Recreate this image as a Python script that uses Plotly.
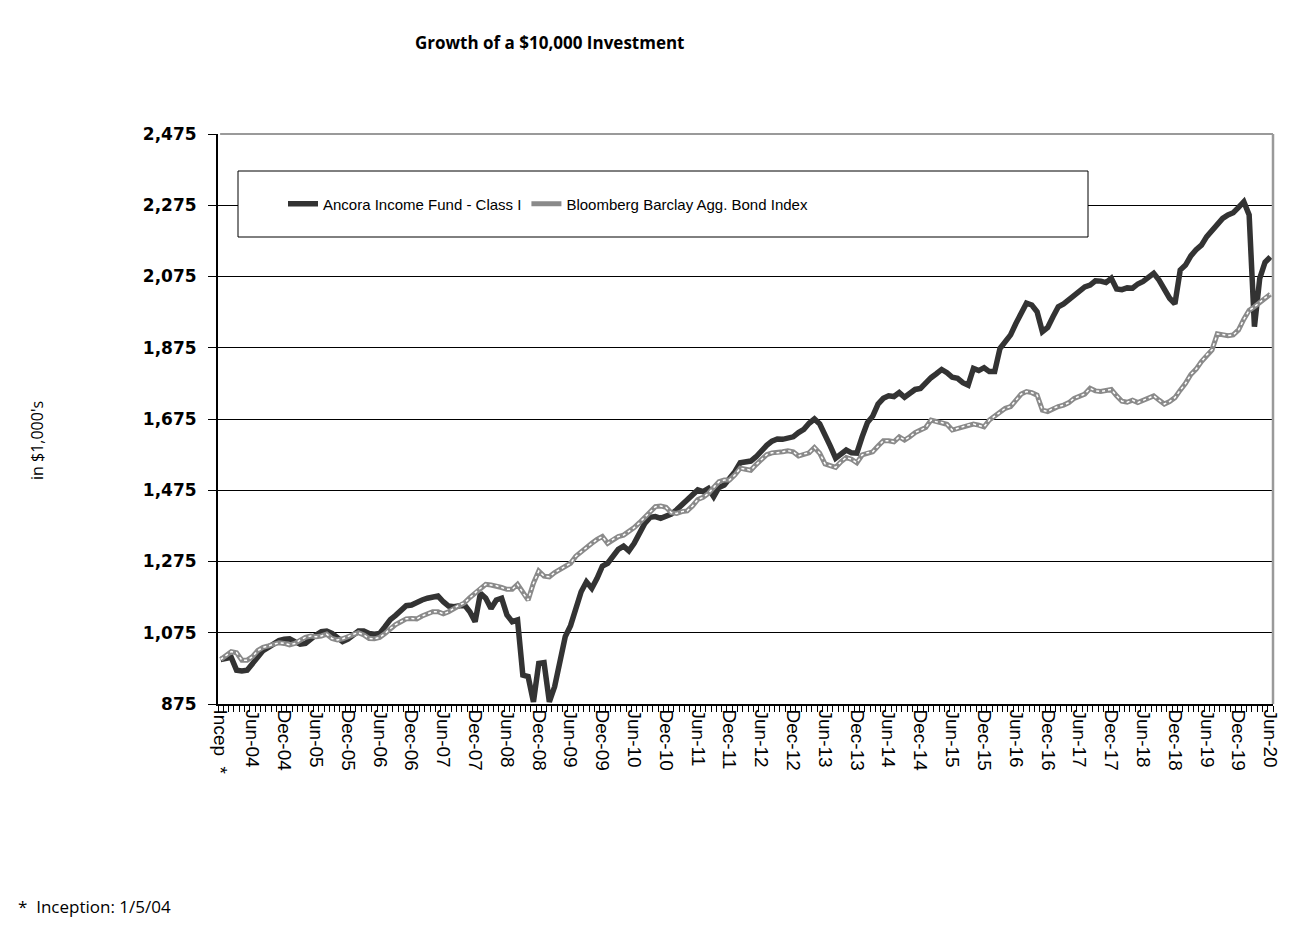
import plotly.graph_objects as go

# ---- categories (month ends; first point is inception) ----
years = list(range(2004, 2021))
mon = ["Jan", "Feb", "Mar", "Apr", "May", "Jun", "Jul", "Aug", "Sep", "Oct", "Nov", "Dec"]
months = ["Incep  *"]
for y in years:
    for m in mon:
        if y == 2020 and mon.index(m) > 5:
            break
        months.append(f"{m}-{str(y)[2:]}")

# ---- series values (growth of $10,000, shown in $1,000's x 100) ----
fund = [1000, 1002, 1006, 970, 968, 970, 989, 1012, 1025, 1034, 1043, 1053, 1057, 1058, 1050, 1043,
        1045, 1058, 1069, 1078, 1080, 1073, 1062, 1050, 1057, 1071, 1080, 1080, 1073, 1071, 1073, 1092,
        1112, 1124, 1139, 1151, 1153, 1162, 1167, 1172, 1176, 1178, 1162, 1150, 1148, 1150, 1153, 1134,
        1106, 1186, 1172, 1143, 1167, 1172, 1125, 1106, 1111, 956, 952, 881, 989, 991, 881, 924,
        994, 1064, 1095, 1143, 1190, 1218, 1200, 1228, 1262, 1270, 1293, 1309, 1318, 1305, 1326, 1354,
        1382, 1399, 1401, 1396, 1401, 1408, 1420, 1434, 1448, 1466, 1476, 1471, 1480, 1457, 1483, 1490,
        1506, 1527, 1552, 1555, 1557, 1569, 1588, 1601, 1613, 1619, 1618, 1621, 1625, 1637, 1646, 1663,
        1675, 1661, 1625, 1599, 1565, 1579, 1588, 1580, 1579, 1625, 1665, 1683, 1717, 1733, 1740, 1738,
        1749, 1736, 1749, 1758, 1761, 1777, 1791, 1802, 1814, 1805, 1792, 1789, 1777, 1770, 1817, 1811,
        1819, 1808, 1808, 1873, 1892, 1911, 1943, 1976, 2000, 1995, 1976, 1920, 1932, 1962, 1990, 1998,
        2011, 2020, 2035, 2046, 2051, 2063, 2062, 2058, 2070, 2040, 2038, 2043, 2042, 2054, 2061, 2073,
        2084, 2065, 2037, 2014, 1998, 2093, 2107, 2133, 2150, 2163, 2187, 2206, 2220, 2238, 2248, 2254,
        2269, 2285, 2248, 1934, 2070, 2115, 2130]

bond = [1000, 1010, 1022, 1019, 998, 998, 1008, 1025, 1034, 1038, 1043, 1047, 1045, 1041, 1045, 1055,
        1062, 1066, 1064, 1066, 1071, 1059, 1055, 1058, 1064, 1071, 1075, 1069, 1059, 1058, 1062, 1073,
        1087, 1098, 1106, 1114, 1115, 1114, 1122, 1129, 1134, 1134, 1128, 1134, 1143, 1153, 1159, 1174,
        1187, 1200, 1211, 1209, 1207, 1202, 1197, 1197, 1211, 1187, 1167, 1214, 1248, 1234, 1232, 1244,
        1253, 1260, 1270, 1290, 1303, 1314, 1326, 1337, 1345, 1326, 1337, 1345, 1349, 1359, 1370, 1384,
        1399, 1415, 1429, 1431, 1427, 1412, 1410, 1415, 1417, 1431, 1449, 1455, 1466, 1483, 1499, 1504,
        1504, 1518, 1537, 1534, 1531, 1547, 1560, 1575, 1580, 1580, 1583, 1586, 1583, 1571, 1577, 1580,
        1595, 1579, 1549, 1543, 1539, 1555, 1567, 1562, 1552, 1574, 1580, 1583, 1599, 1614, 1614, 1611,
        1625, 1616, 1625, 1637, 1644, 1651, 1672, 1667, 1665, 1660, 1644, 1649, 1652, 1658, 1661, 1658,
        1653, 1672, 1683, 1696, 1705, 1710, 1726, 1745, 1752, 1749, 1742, 1700, 1696, 1705, 1710, 1714,
        1721, 1733, 1739, 1745, 1761, 1754, 1752, 1754, 1758, 1740, 1725, 1722, 1728, 1721, 1728, 1733,
        1740, 1728, 1717, 1724, 1735, 1756, 1775, 1800, 1815, 1836, 1855, 1869, 1914, 1912, 1909, 1911,
        1925, 1955, 1980, 1990, 2003, 2015, 2025]

y_ticks = [875, 1075, 1275, 1475, 1675, 1875, 2075, 2275, 2475]

x = list(range(len(months)))
label_idx = list(range(0, len(months), 6))

# plot-area pixel geometry
L, R, T, B = 218, 1273, 134, 704
PW, PH = R - L, B - T


def px(xp):
    return (xp - L) / PW


def py(yp):
    return (B - yp) / PH


fig = go.Figure()
fig.add_trace(go.Scatter(x=x, y=fund, mode="lines", name="Ancora Income Fund - Class I",
                         line=dict(color="#333333", width=5.5)))
fig.add_trace(go.Scatter(x=x, y=bond, mode="lines", name="Bloomberg Barclay Agg. Bond Index",
                         line=dict(color="#8a8a8a", width=5), legendgroup="b"))
fig.add_trace(go.Scatter(x=x, y=bond, mode="lines", showlegend=False, hoverinfo="skip",
                         line=dict(color="white", width=1.5, dash="dot"), legendgroup="b"))

fig.update_layout(
    width=1310, height=937,
    margin=dict(l=L, r=1310 - R, t=T, b=937 - B),
    paper_bgcolor="white", plot_bgcolor="white",
    showlegend=True,
    legend=dict(orientation="h", x=px(283), y=py(204), xanchor="left", yanchor="middle",
                bgcolor="rgba(0,0,0,0)", borderwidth=0, itemwidth=30,
                font=dict(family="Liberation Sans, Arial", size=15, color="black")),
    xaxis=dict(range=[-0.5, len(months) - 0.5], tickmode="array", tickvals=label_idx,
               ticktext=[months[i] for i in label_idx], tickangle=90, ticks="",
               showgrid=False, zeroline=False, showline=True, linecolor="black", linewidth=1.5,
               tickfont=dict(family="Liberation Sans, Arial", size=19, color="black"),
               minor=dict(tickmode="array", tickvals=[i - 0.5 for i in range(len(months) + 1)],
                          ticks="outside", ticklen=6, tickcolor="black", tickwidth=1, showgrid=False)),
    yaxis=dict(range=[875, 2475], tickmode="array", tickvals=y_ticks,
               ticktext=[f"{v:,}" for v in y_ticks], ticks="outside", ticklen=8, tickcolor="black",
               ticklabelstandoff=8,
               showgrid=True, gridcolor="black", gridwidth=1, zeroline=False,
               showline=True, linecolor="black", linewidth=2,
               tickfont=dict(family="DejaVu Sans", size=17, color="black", weight="bold")),
    shapes=[
        # gray top and right border of the plot area
        dict(type="line", xref="paper", yref="paper", x0=0.002, x1=1, y0=1, y1=1,
             line=dict(color="#9a9a9a", width=2), layer="above"),
        dict(type="line", xref="paper", yref="paper", x0=1, x1=1, y0=0, y1=1,
             line=dict(color="#9a9a9a", width=2.5), layer="above"),
        # legend box
        dict(type="rect", xref="paper", yref="paper", x0=px(238), x1=px(1088),
             y0=py(237), y1=py(171), line=dict(color="black", width=1),
             fillcolor="white", layer="above"),
    ],
    annotations=[
        dict(text="<b>Growth of a $10,000 Investment</b>", xref="paper", yref="paper",
             x=px(550), y=py(43), xanchor="center", yanchor="middle", showarrow=False,
             font=dict(family="Open Sans", size=17, color="black")),
        dict(text="in $1,000's", xref="paper", yref="paper", x=px(37), y=py(441),
             xanchor="center", yanchor="middle",
             textangle=-90, showarrow=False, font=dict(family="Open Sans", size=16, color="black")),
        dict(text="*  Inception: 1/5/04", xref="paper", yref="paper", x=px(16),
             y=py(906), xanchor="left", yanchor="middle", showarrow=False,
             font=dict(family="Open Sans", size=17, color="black")),
    ],
)

fig.write_html("out.html", config={"displayModeBar": False},
               post_script="document.body.style.margin='0px';")
